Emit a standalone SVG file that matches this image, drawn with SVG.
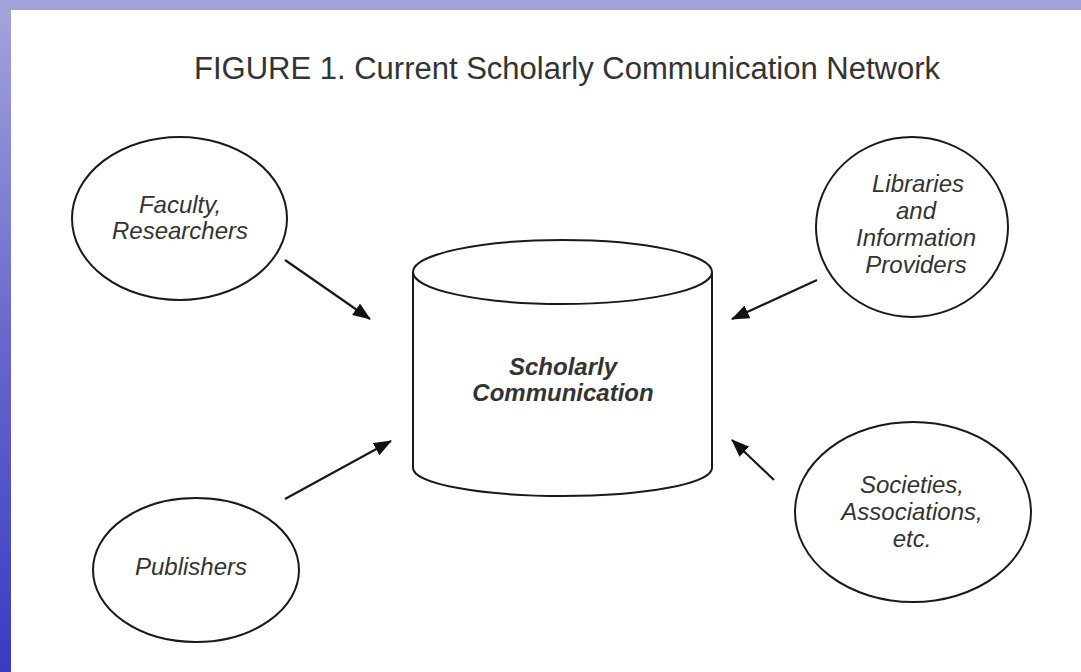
<svg xmlns="http://www.w3.org/2000/svg" width="1081" height="672" viewBox="0 0 1081 672">
  <defs>
    <linearGradient id="bg" x1="0" y1="0" x2="0" y2="1">
      <stop offset="0" stop-color="#a4a4dc"/>
      <stop offset="0.5" stop-color="#6868cc"/>
      <stop offset="1" stop-color="#3a3ac4"/>
    </linearGradient>
    <marker id="arrow" viewBox="0 0 18 14" refX="17" refY="7" markerWidth="18" markerHeight="14" markerUnits="userSpaceOnUse" orient="auto">
      <path d="M0,0 L18,7 L0,14 z" fill="#111"/>
    </marker>
  </defs>
  <style>
    .shape { fill: #fff; stroke: #1a1a1a; stroke-width: 2; }
    .lbl { font-family: "Liberation Sans", Arial, sans-serif; font-size: 24px; font-style: italic; fill: #333; text-anchor: middle; }
    .bold { font-weight: bold; }
    .title { font-family: "Liberation Sans", Arial, sans-serif; font-size: 31px; fill: #333; text-anchor: middle; }
    .conn { stroke: #1a1a1a; stroke-width: 2.2; fill: none; marker-end: url(#arrow); }
  </style>
  <rect x="0" y="0" width="1081" height="672" fill="url(#bg)"/>
  <rect x="11" y="10" width="1070" height="662" fill="#fff"/>
  <text class="title" x="567" y="79">FIGURE 1. Current Scholarly Communication Network</text>

  <g id="faculty">
    <ellipse class="shape" cx="179.5" cy="218.5" rx="107.5" ry="81.5"/>
    <text class="lbl" x="180" y="213">Faculty,</text>
    <text class="lbl" x="180" y="239">Researchers</text>
  </g>

  <g id="libraries">
    <ellipse class="shape" cx="912" cy="227" rx="96" ry="90"/>
    <text class="lbl" x="918" y="192">Libraries</text>
    <text class="lbl" x="916" y="219">and</text>
    <text class="lbl" x="916" y="246">Information</text>
    <text class="lbl" x="916" y="273">Providers</text>
  </g>

  <g id="publishers">
    <ellipse class="shape" cx="196" cy="570" rx="103" ry="72"/>
    <text class="lbl" x="191" y="575">Publishers</text>
  </g>

  <g id="societies">
    <ellipse class="shape" cx="913" cy="512" rx="118" ry="90"/>
    <text class="lbl" x="912" y="493">Societies,</text>
    <text class="lbl" x="912" y="520">Associations,</text>
    <text class="lbl" x="912" y="547">etc.</text>
  </g>

  <g id="scholarly">
    <path class="shape" d="M413,272 L413,468 A149.5,28 0 0 0 712,468 L712,272"/>
    <ellipse class="shape" cx="562.5" cy="272" rx="149.5" ry="32"/>
    <text class="lbl bold" x="563" y="375">Scholarly</text>
    <text class="lbl bold" x="563" y="401">Communication</text>
  </g>

  <g id="connectors">
    <line class="conn" x1="285" y1="260" x2="370" y2="319"/>
    <line class="conn" x1="285" y1="499" x2="391" y2="441"/>
    <line class="conn" x1="817" y1="280" x2="732" y2="319"/>
    <line class="conn" x1="774" y1="480" x2="732" y2="440"/>
  </g>
</svg>
